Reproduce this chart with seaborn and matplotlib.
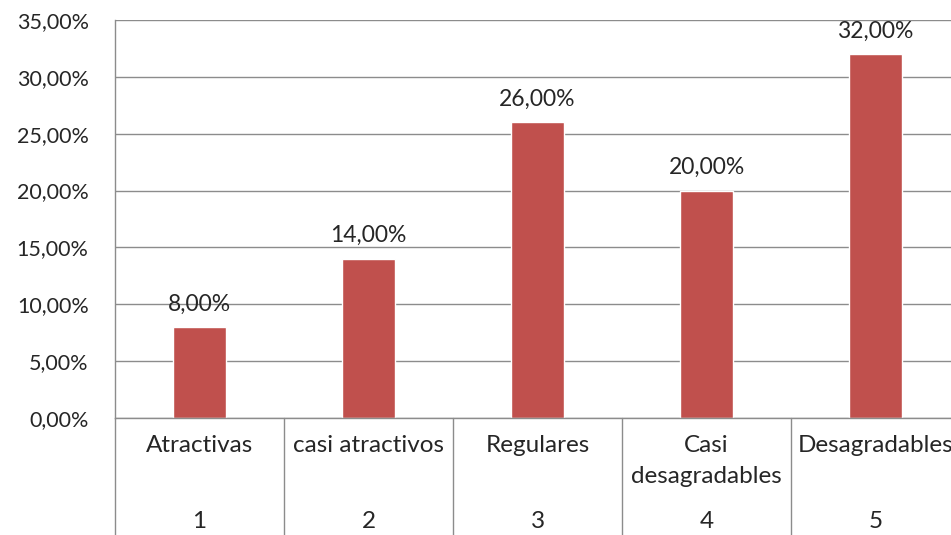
import matplotlib
matplotlib.use("Agg")
import matplotlib.pyplot as plt
import seaborn as sns
import pandas as pd

# data
categories = ["Atractivas", "casi atractivos", "Regulares", "Casi\ndesagradables", "Desagradables"]
codes = ["1", "2", "3", "4", "5"]
values = [8.0, 14.0, 26.0, 20.0, 32.0]
yticks = [0, 5, 10, 15, 20, 25, 30, 35]

BAR = "#C0504D"
GRID = "#8C8C8C"
TXT = "#262626"
FS_TICK = 15.5
FS_NUM = 16.5
FS_CAT = 17.5

sns.set_style("white")
plt.rcParams["font.family"] = ["Lato", "DejaVu Sans"]

df = pd.DataFrame({"cat": categories, "val": values})

fig = plt.figure(figsize=(9.51, 5.35), dpi=100)
# axes spans 115..960 px horizontally, 20..418 px vertically
ax = fig.add_axes([115 / 951, 1 - 418 / 535, 845 / 951, 398 / 535])

sns.barplot(data=df, x="cat", y="val", order=categories, color=BAR,
            width=0.31, saturation=1, ax=ax)

ax.set_xlim(-0.5, 4.5)
ax.set_ylim(0, 35)
ax.set_yticks(yticks)
ax.set_yticklabels([f"{v:.2f}".replace(".", ",") + "%" for v in yticks],
                   fontsize=FS_TICK, color=TXT)
ax.tick_params(axis="y", length=0, pad=19)
ax.set_xticks([])
ax.set_xlabel("")
ax.set_ylabel("")
ax.yaxis.grid(True, color=GRID, linewidth=1)
ax.set_axisbelow(True)
for s in ["top", "right"]:
    ax.spines[s].set_visible(False)
for s in ["left", "bottom"]:
    ax.spines[s].set_color(GRID)
    ax.spines[s].set_linewidth(1)

# value labels
for i, v in enumerate(values):
    ax.annotate(f"{v:.2f}".replace(".", ",") + "%", (i, v), xytext=(0, 9),
                textcoords="offset points", ha="center", va="bottom",
                fontsize=FS_NUM, color=TXT)

# multi-level category axis
tr = ax.get_xaxis_transform()
for b in range(6):
    ax.plot([b - 0.5, b - 0.5], [0, -0.35], transform=tr, color=GRID,
            linewidth=1, clip_on=False)
for i, (c, n) in enumerate(zip(categories, codes)):
    if "\n" in c:
        top, bot = c.split("\n")
        ax.text(i, -0.068, top, transform=tr, ha="center", va="center",
                fontsize=FS_CAT, color=TXT)
        ax.text(i, -0.148, bot, transform=tr, ha="center", va="center",
                fontsize=FS_CAT, color=TXT)
    else:
        ax.text(i, -0.068, c, transform=tr, ha="center", va="center",
                fontsize=FS_CAT, color=TXT)
    ax.text(i, -0.261, n, transform=tr, ha="center", va="center",
            fontsize=FS_CAT, color=TXT)

fig.savefig("out.png", dpi=100)
